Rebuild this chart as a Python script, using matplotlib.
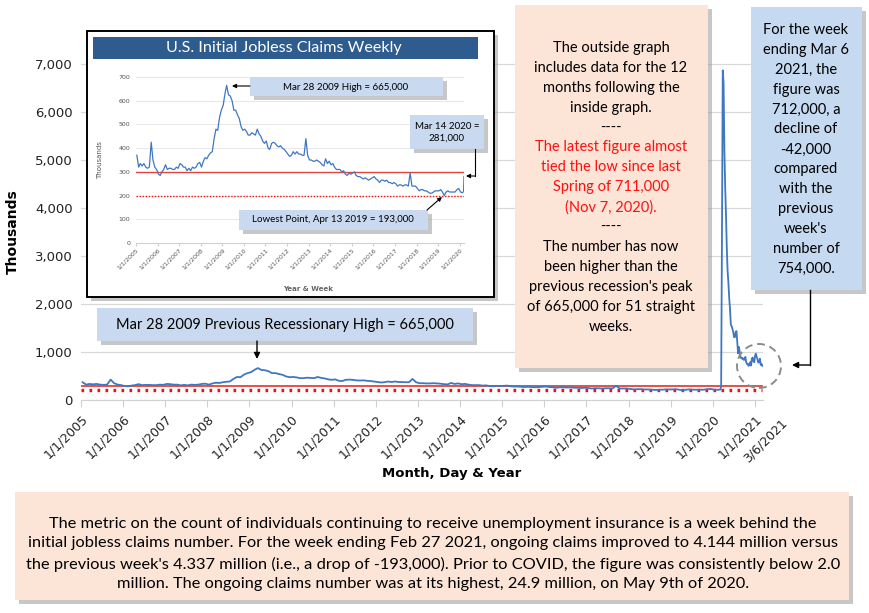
import numpy as np
import pandas as pd
import matplotlib
matplotlib.use("Agg")
import matplotlib.pyplot as plt
from matplotlib.patches import Rectangle, Ellipse, FancyArrowPatch
from matplotlib.lines import Line2D
from matplotlib.transforms import ScaledTranslation

# Monthly initial claims (thousands), Jan 2005 - Feb 2020
claims_2005 = [370, 320, 335, 325, 335, 320, 315, 320, 425, 350, 320, 310]
claims_2006 = [290, 285, 300, 310, 330, 310, 315, 315, 310, 310, 320, 315]
claims_2007 = [335, 330, 320, 320, 305, 315, 305, 320, 315, 320, 335, 340]
claims_2008 = [320, 345, 360, 355, 370, 380, 385, 440, 480, 475, 530, 560]
claims_2009 = [580, 630, 665, 625, 620, 600, 560, 560, 540, 525, 490, 475]
claims_2010 = [480, 470, 455, 455, 465, 460, 455, 480, 460, 450, 430, 420]
claims_2011 = [430, 400, 395, 420, 425, 420, 410, 405, 410, 400, 395, 385]
claims_2012 = [375, 365, 370, 385, 375, 385, 375, 375, 370, 370, 440, 370]
claims_2013 = [350, 350, 345, 345, 350, 345, 340, 330, 325, 355, 335, 345]
claims_2014 = [330, 335, 320, 310, 310, 310, 300, 305, 290, 285, 295, 290]
claims_2015 = [295, 300, 285, 280, 280, 275, 270, 275, 270, 265, 270, 275]
claims_2016 = [280, 270, 265, 255, 265, 265, 260, 265, 255, 255, 250, 255]
claims_2017 = [250, 240, 245, 245, 240, 245, 245, 240, 295, 240, 240, 240]
claims_2018 = [230, 220, 225, 225, 220, 220, 215, 210, 210, 215, 220, 220]
claims_2019 = [220, 225, 215, 200, 215, 220, 215, 215, 215, 215, 225, 230]
claims_2020_pre = [215, 212]

# Weekly initial claims (thousands), week ending Mar 7 2020 - Mar 6 2021
claims_weekly = [217, 281, 3307, 6867, 6615, 5237, 4442, 3867, 3176, 2687,
                 2446, 2123, 1897, 1566, 1540, 1482, 1413, 1310, 1307, 1422,
                 1435, 1191, 971, 1106, 1006, 881, 884, 860, 870, 837,
                 840, 898, 787, 751, 751, 711, 748, 787, 716, 853,
                 885, 803, 787, 922, 965, 900, 847, 779, 793, 861,
                 730, 754, 712]

ref_high = 300
ref_low = 200

monthly = (claims_2005 + claims_2006 + claims_2007 + claims_2008 + claims_2009 +
           claims_2010 + claims_2011 + claims_2012 + claims_2013 + claims_2014 +
           claims_2015 + claims_2016 + claims_2017 + claims_2018 + claims_2019 +
           claims_2020_pre)
monthly_dates = pd.date_range("2005-01-01", periods=len(monthly), freq="MS") + pd.Timedelta(days=14)
weekly_dates = pd.date_range("2020-03-07", periods=len(claims_weekly), freq="7D")

dates = list(monthly_dates) + list(weekly_dates)
values = monthly + claims_weekly
inset_n = len(monthly) + 2  # up to Mar 14 2020

W, H = 870, 613
fig = plt.figure(figsize=(W / 100, H / 100), dpi=100)
TXT = ["Lato", "DejaVu Sans"]


def fx(x):
    return x / W


def fy(y):
    return 1 - y / H


def box(x0, y0, x1, y1, color, z=3, edge="none", lw=0):
    fig.add_artist(Rectangle((fx(x0 + 4), fy(y1 + 4)), (x1 - x0) / W, (y1 - y0) / H,
                             transform=fig.transFigure, facecolor="#9a9a9a",
                             edgecolor="none", alpha=0.55, zorder=z))
    fig.add_artist(Rectangle((fx(x0), fy(y1)), (x1 - x0) / W, (y1 - y0) / H,
                             transform=fig.transFigure, facecolor=color,
                             edgecolor=edge, linewidth=lw, zorder=z + 0.1))


def arrow(p0, p1, z=6, lw=1.0, ms=9):
    fig.add_artist(FancyArrowPatch((fx(p0[0]), fy(p0[1])), (fx(p1[0]), fy(p1[1])),
                                   transform=fig.transFigure, arrowstyle="-|>",
                                   mutation_scale=ms, color="black", lw=lw,
                                   shrinkA=0, shrinkB=0, zorder=z))


def seg(p0, p1, z=6, lw=1.0):
    fig.add_artist(Line2D([fx(p0[0]), fx(p1[0])], [fy(p0[1]), fy(p1[1])],
                          transform=fig.transFigure, color="black", lw=lw, zorder=z))


# ---- main chart
ax = fig.add_axes([fx(81), fy(400), (763 - 81) / W, (400 - 16) / H])
ax.plot(dates, values, color="#3F77C2", lw=1.3, zorder=3)
x_end = pd.Timestamp("2021-03-06")
ax.plot([pd.Timestamp("2005-01-01"), x_end], [ref_high, ref_high], color="#E0443C", lw=1.3, zorder=2)
ax.plot([pd.Timestamp("2005-01-01"), x_end], [ref_low, ref_low], color="#F01010", lw=2.4,
        linestyle=(0, (0.8, 1.6)), zorder=2)
ax.set_xlim(pd.Timestamp("2005-01-01"), pd.Timestamp("2021-03-12"))
ax.set_ylim(0, 8000)
ax.set_yticks(range(0, 8000, 1000))
ax.set_yticklabels([f"{v:,}" for v in range(0, 8000, 1000)], fontsize=9.5, color="#222222")
ax.grid(axis="y", color="#D9D9D9", lw=0.9)
ax.set_axisbelow(True)
tick_dates = [pd.Timestamp(f"{y}-01-01") for y in range(2005, 2022)]
tick_labels = [f"1/1/{y}" for y in range(2005, 2022)]
ax.set_xticks(tick_dates)
ax.set_xticklabels(tick_labels, rotation=45, ha="right", rotation_mode="anchor",
                   fontsize=9, color="#222222")
# last date label sits a little to the right of the 2021 label
ax.text(x_end, 0, "3/6/2021", transform=ax.get_xaxis_transform() +
        ScaledTranslation(0.18, -0.16, fig.dpi_scale_trans),
        rotation=45, ha="right", va="top", rotation_mode="anchor",
        fontsize=9, color="#222222")
for s in ["top", "right", "left"]:
    ax.spines[s].set_visible(False)
ax.spines["bottom"].set_color("#D0D0D0")
ax.tick_params(axis="y", length=0, pad=6)
ax.tick_params(axis="x", color="#D0D0D0", length=5, pad=4)
fig.text(fx(13), fy(232), "Thousands", rotation=90, fontsize=10, fontweight="bold",
         ha="center", va="center")
fig.text(fx(452), fy(474), "Month, Day & Year", fontsize=9.5, fontweight="bold",
         ha="center", va="center")

# ---- inset chart (frame, title bar, axes)
box(87, 31, 494, 297, "white", z=4, edge="black", lw=1.4)
fig.add_artist(Rectangle((fx(93), fy(59)), (478 - 93) / W, (59 - 37) / H,
                         transform=fig.transFigure, facecolor="#2F5C8E",
                         edgecolor="none", zorder=4.5))
fig.text(fx(284), fy(48), "U.S. Initial Jobless Claims Weekly", fontsize=11.6,
         color="white", ha="center", va="center", family=TXT, zorder=5)
ax2 = fig.add_axes([fx(136), fy(243), (464 - 136) / W, (243 - 77) / H], zorder=5)
ax2.patch.set_alpha(0)
ax2.plot(dates[:inset_n], values[:inset_n], color="#3F77C2", lw=0.9, zorder=3)
x_in = dates[inset_n - 1]
ax2.plot([pd.Timestamp("2005-01-01"), x_in], [ref_high, ref_high], color="#E0443C", lw=1.0, zorder=2)
ax2.plot([pd.Timestamp("2005-01-01"), x_in], [ref_low, ref_low], color="#F01010", lw=1.0,
         linestyle=(0, (1, 1.2)), zorder=2)
ax2.set_xlim(pd.Timestamp("2005-01-01"), x_in)
ax2.set_ylim(0, 700)
ax2.set_yticks(range(0, 800, 100))
ax2.set_yticklabels([str(v) for v in range(0, 800, 100)], fontsize=4.5, color="#555555")
ax2.grid(axis="y", color="#E3E3E3", lw=0.6)
ax2.set_axisbelow(True)
in_ticks = [pd.Timestamp(f"{y}-01-01") for y in range(2005, 2021)]
ax2.set_xticks(in_ticks)
ax2.set_xticklabels([f"1/1/{y}" for y in range(2005, 2021)], rotation=45, ha="right",
                    rotation_mode="anchor", fontsize=4.5, color="#555555")
for s in ["top", "right", "left"]:
    ax2.spines[s].set_visible(False)
ax2.spines["bottom"].set_color("#D0D0D0")
ax2.tick_params(axis="y", length=0, pad=4)
ax2.tick_params(axis="x", color="#D0D0D0", length=2, pad=1)
fig.text(fx(100), fy(160), "Thousands", rotation=90, fontsize=5, color="#555555",
         ha="center", va="center", zorder=6)
fig.text(fx(308), fy(289), "Year & Week", fontsize=5, fontweight="bold", color="#666666",
         ha="center", va="center", zorder=6)

# inset annotations
box(250, 77, 443, 96, "#C9DAF0", z=6)
fig.text(fx(346), fy(87), "Mar 28 2009 High = 665,000", fontsize=7, family=TXT,
         ha="center", va="center", zorder=7)
arrow((250, 86), (232, 86), z=7, lw=0.8, ms=6)
box(410, 115, 484, 149, "#C9DAF0", z=6)
fig.text(fx(447), fy(132), "Mar 14 2020 =\n281,000", fontsize=7, family=TXT,
         ha="center", va="center", zorder=7, linespacing=1.4)
seg((475, 149), (475, 176), z=7, lw=0.8)
arrow((475, 176), (466, 176), z=7, lw=0.8, ms=6)
box(239, 210, 428, 230, "#C9DAF0", z=6)
fig.text(fx(333), fy(220), "Lowest Point, Apr 13 2019 = 193,000", fontsize=7, family=TXT,
         ha="center", va="center", zorder=7)
arrow((427, 210), (442, 197), z=7, lw=0.8, ms=6)

# ---- main annotation
box(97, 308, 473, 341, "#C9DAF0", z=6)
fig.text(fx(285), fy(325), "Mar 28 2009 Previous Recessionary High = 665,000", fontsize=10.5,
         family=TXT, ha="center", va="center", zorder=7)
arrow((257, 341), (257, 359), z=7)

# ---- peach commentary box
box(515, 5, 708, 368, "#FCE4D6", z=6)
peach_lines = [
    ("The outside graph", "black"),
    ("includes data for the 12", "black"),
    ("months following the", "black"),
    ("inside graph.", "black"),
    ("----", "black"),
    ("The latest figure almost", "#FF1010"),
    ("tied the low since last", "#FF1010"),
    ("Spring of 711,000", "#FF1010"),
    ("(Nov 7, 2020).", "#FF1010"),
    ("----", "black"),
    ("The number has now", "black"),
    ("been higher than the", "black"),
    ("previous recession's peak", "black"),
    ("of 665,000 for 51 straight", "black"),
    ("weeks.", "black"),
]
for i, (t, c) in enumerate(peach_lines):
    fig.text(fx(611), fy(48 + i * 19.9), t, fontsize=10.5, color=c, family=TXT,
             ha="center", va="center", zorder=7)

# ---- blue latest-week box
box(751, 7, 862, 290, "#C5D9F1", z=6)
blue_lines = ["For the week", "ending Mar 6", "2021, the", "figure was", "712,000, a",
              "decline of", "-42,000", "compared", "with the", "previous", "week's",
              "number of", "754,000."]
for i, t in enumerate(blue_lines):
    fig.text(fx(806), fy(30 + i * 19.9), t, fontsize=10.5, family=TXT,
             ha="center", va="center", zorder=7)
seg((810, 290), (810, 365), z=7)
arrow((810, 365), (792, 365), z=7)
fig.add_artist(Ellipse((fx(759), fy(366)), 44 / W, 44 / H, transform=fig.transFigure, fill=False,
                       edgecolor="#8C8C8C", lw=1.4, linestyle=(0, (4, 2.5)), zorder=7))

# ---- bottom note
box(15, 492, 849, 600, "#FCE4D6", z=6)
note = ("The metric on the count of individuals continuing to receive unemployment insurance is a week behind the\n"
        "initial jobless claims number. For the week ending Feb 27 2021, ongoing claims improved to 4.144 million versus\n"
        "the previous week's 4.337 million (i.e., a drop of -193,000). Prior to COVID, the figure was consistently below 2.0\n"
        "million. The ongoing claims number was at its highest, 24.9 million, on May 9th of 2020.")
fig.text(fx(433), fy(554), note, fontsize=11.8, family=TXT, ha="center", va="center",
         linespacing=1.52, zorder=7)

fig.savefig("out.png", dpi=100)
